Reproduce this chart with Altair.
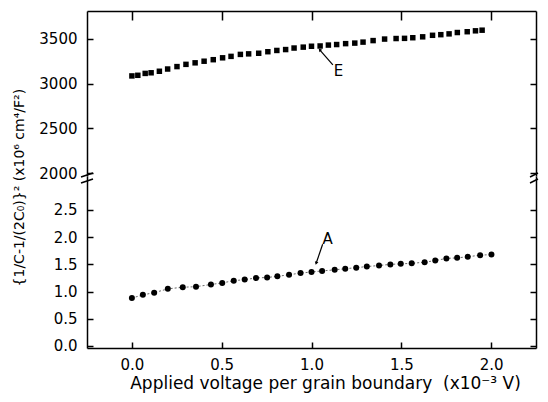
import altair as alt
import pandas as pd

# ---- data ----
E_x = [0.000, 0.033, 0.074, 0.107, 0.153, 0.199, 0.251, 0.301, 0.352, 0.402, 0.453,
       0.505, 0.552, 0.604, 0.650, 0.706, 0.757, 0.807, 0.856, 0.903, 0.954, 1.000,
       1.048, 1.094, 1.140, 1.190, 1.241, 1.287, 1.343, 1.407, 1.471, 1.518, 1.564,
       1.619, 1.674, 1.720, 1.766, 1.812, 1.867, 1.913, 1.950]
E_y = [3086, 3093, 3114, 3121, 3138, 3163, 3190, 3215, 3232, 3250, 3267,
       3288, 3304, 3326, 3332, 3339, 3356, 3370, 3380, 3397, 3407, 3417,
       3420, 3430, 3436, 3446, 3452, 3463, 3480, 3497, 3503, 3505, 3512,
       3522, 3539, 3546, 3555, 3570, 3579, 3589, 3596]

A_x = [0.000, 0.061, 0.124, 0.200, 0.283, 0.357, 0.440, 0.503, 0.567, 0.628, 0.691,
       0.753, 0.810, 0.875, 0.939, 1.000, 1.059, 1.129, 1.188, 1.249, 1.308, 1.376,
       1.439, 1.497, 1.558, 1.630, 1.689, 1.751, 1.811, 1.870, 1.939, 2.002]
A_y = [0.88, 0.94, 0.98, 1.05, 1.08, 1.09, 1.13, 1.16, 1.20, 1.22, 1.25,
       1.26, 1.28, 1.31, 1.34, 1.36, 1.38, 1.40, 1.42, 1.44, 1.46, 1.48,
       1.50, 1.51, 1.52, 1.54, 1.57, 1.61, 1.62, 1.64, 1.67, 1.68]

x_ticks = [0.0, 0.5, 1.0, 1.5, 2.0]
y_top_ticks = [2000, 2500, 3000, 3500]
y_bot_ticks = [0.0, 0.5, 1.0, 1.5, 2.0, 2.5]

# annotations (label, label position, arrow start, arrow end)
E_label = {"t": "E", "x": 1.15, "y": 3136, "x1": 1.119, "y1": 3210, "x2": 1.046, "y2": 3377}
A_label = {"t": "A", "x": 1.09, "y": 1.97, "x1": 1.062, "y1": 1.87, "x2": 1.026, "y2": 1.52}

y_title = "{1/C-1/(2C\u2080)}\u00b2 (x10\u2076 cm\u2074/F\u00b2)"
x_title = "Applied voltage per grain boundary \u00a0(x10\u207b\u00b3 V)"

# ---- layout ----
W, H1, H2 = 449, 165, 172
FONT = "DejaVu Sans"

xs = alt.Scale(domain=[-0.25, 2.25], nice=False, zero=False)
ys_top = alt.Scale(domain=[1970, 3810], nice=False, zero=False)
ys_bot = alt.Scale(domain=[-0.037, 3.125], nice=False, zero=False)

dfE = pd.DataFrame({"v": E_x, "c": E_y})
dfA = pd.DataFrame({"v": A_x, "c": A_y})
annE = pd.DataFrame([E_label])
annA = pd.DataFrame([A_label])


def tick_layers(df, ys, yvals, H, x_tick_orient, x_tick_size):
    a = alt.Chart(df).mark_point(opacity=0).encode(
        x=alt.X("v:Q", scale=xs, axis=alt.Axis(orient=x_tick_orient, offset=-H, values=x_ticks,
                                                labels=False, domain=False, tickSize=x_tick_size, title=None)),
        y=alt.Y("c:Q", scale=ys, axis=alt.Axis(orient="right", offset=-W, values=yvals,
                                               labels=False, domain=False, tickSize=6, title=None)),
    )
    b = alt.Chart(df).mark_point(opacity=0).encode(
        x=alt.X("v:Q", scale=xs, axis=None),
        y=alt.Y("c:Q", scale=ys, axis=alt.Axis(orient="left", offset=-W, values=yvals,
                                               labels=False, domain=True, tickSize=6, title=None)),
    )
    return a, b


def annotation(ann, ys, angle):
    txt = alt.Chart(ann).mark_text(font=FONT, fontSize=15, color="black", align="center", baseline="middle").encode(
        x=alt.X("x:Q", scale=xs, axis=None), y=alt.Y("y:Q", scale=ys, axis=None), text="t:N")
    rule = alt.Chart(ann).mark_rule(color="black", strokeWidth=1.2).encode(
        x=alt.X("x1:Q", scale=xs, axis=None), y=alt.Y("y1:Q", scale=ys, axis=None), x2="x2:Q", y2="y2:Q")
    head = alt.Chart(ann).mark_point(shape="triangle-up", filled=True, color="black", size=14, angle=angle, opacity=1).encode(
        x=alt.X("x2:Q", scale=xs, axis=None), y=alt.Y("y2:Q", scale=ys, axis=None))
    return txt, rule, head


# ---- top panel (E) ----
top_pts = alt.Chart(dfE).mark_square(size=30, color="black", opacity=1).encode(
    x=alt.X("v:Q", scale=xs, axis=alt.Axis(orient="top", labels=False, ticks=False, domain=True, title=None)),
    y=alt.Y("c:Q", scale=ys_top, axis=alt.Axis(orient="left", values=y_top_ticks, ticks=False, domain=True,
                                                labelPadding=10, format="d", title=None)),
)
ta, tb = tick_layers(dfE, ys_top, y_top_ticks, H1, "bottom", 9)
e_txt, e_rule, e_head = annotation(annE, ys_top, 319)
top = alt.layer(top_pts, ta, tb, e_rule, e_head, e_txt).resolve_axis(x="independent", y="independent").properties(width=W, height=H1)

# ---- bottom panel (A) ----
bot_line = alt.Chart(dfA).mark_line(color="#444444", strokeWidth=0.8, strokeDash=[2, 2]).encode(
    x=alt.X("v:Q", scale=xs, axis=None), y=alt.Y("c:Q", scale=ys_bot, axis=None))
bot_pts = alt.Chart(dfA).mark_circle(size=36, color="black", opacity=1).encode(
    x=alt.X("v:Q", scale=xs, axis=alt.Axis(orient="bottom", values=x_ticks, ticks=False, domain=True,
                                           labelPadding=9, format=".1f", title=x_title, titlePadding=3,
                                           titleFontSize=17, titleX=238, titleAlign="center")),
    y=alt.Y("c:Q", scale=ys_bot, axis=alt.Axis(orient="left", values=y_bot_ticks, ticks=False, domain=True,
                                                labelPadding=10, format=".1f", title=None)),
)
ba, bb = tick_layers(dfA, ys_bot, y_bot_ticks, H2, "top", 6)
a_txt, a_rule, a_head = annotation(annA, ys_bot, 198)

# axis-break marks (decoration)
breaks = []
for x0, dl, dr in ((0, 6, 6), (W, 6, 2)):
    for yc in (-1, 5):
        breaks.append(alt.Chart(dfA.head(1)).mark_rule(color="black", strokeWidth=1.5).encode(
            x=alt.value(x0 - dl), x2=alt.value(x0 + dr), y=alt.value(yc + 2), y2=alt.value(yc - 2)))

bottom = alt.layer(bot_line, bot_pts, ba, bb, a_rule, a_head, a_txt, *breaks).resolve_axis(
    x="independent", y="independent").properties(width=W, height=H2)

chart = alt.vconcat(top, bottom, spacing=0, bounds="flush").properties(
    title=alt.Title(text=y_title, orient="left", anchor="middle", frame="bounds", font=FONT, fontSize=14,
                    fontWeight="normal", color="black", offset=12, dx=13),
    padding={"left": 4, "top": 2, "right": 0, "bottom": 3},
).configure_view(stroke=None).configure_axis(
    labelFont=FONT, labelFontSize=15, labelColor="black", titleFont=FONT, titleFontSize=15,
    titleFontWeight="normal", titleColor="black", domainColor="black", domainWidth=1.5,
    tickColor="black", tickWidth=1.5, grid=False,
)

chart.save("out.html", embed_options={"renderer": "svg", "actions": False})
